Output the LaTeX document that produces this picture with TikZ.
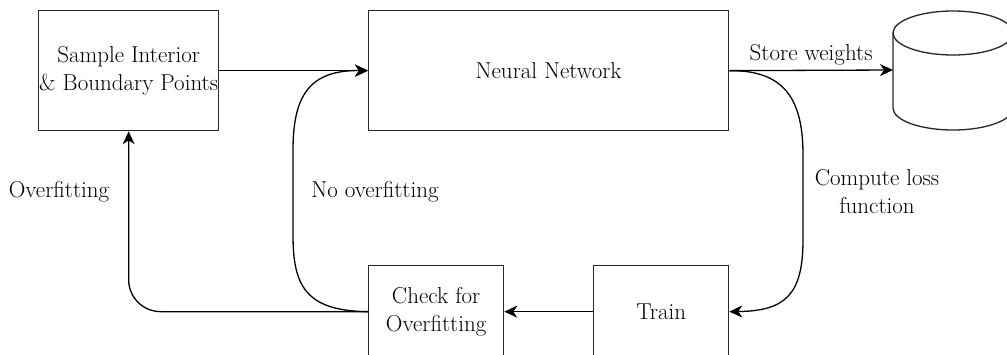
\documentclass[tikz,border=0pt]{standalone}
\usetikzlibrary{arrows.meta}
\begin{document}
\begin{tikzpicture}[x=1pt,y=-1pt,
  box/.style={draw=black!85,line width=1.3pt,anchor=north west,inner sep=0pt,align=center,font=\fontsize{23}{28}\selectfont},
  lbl/.style={align=center,font=\fontsize{23}{28}\selectfont,inner sep=0pt},
  conn/.style={line width=1.3pt,-{Stealth[length=13pt,width=12pt,inset=4pt]}}]
\useasboundingbox (0,0) rectangle (1007,354);
\clip (0,0) rectangle (1007,354);
\node[box,minimum width=180pt,minimum height=120pt] (sample) at (38,10) {Sample Interior\\\& Boundary Points};
\node[box,minimum width=360pt,minimum height=120pt] (nn) at (368,10) {Neural Network};
\node[box,minimum width=135pt,minimum height=92pt] (check) at (368,265) {Check for\\Overfitting};
\node[box,minimum width=135pt,minimum height=92pt] (train) at (593,265) {Train};
% database cylinder
\coordinate (db) at (893,70);
\draw[line width=1.3pt,draw=black!85] (893,33) -- (893,108) arc[start angle=180,end angle=0,x radius=60,y radius=22] -- (1013,33);
\draw[line width=1.3pt,draw=black!85] (953,33) ellipse[x radius=60,y radius=22];
% connectors
\draw[conn] (sample.east) -- (nn.west);
\draw[conn] (nn.east) -- node[lbl,above=4pt] {Store weights} (db);
\draw[conn] (nn.east) .. controls (785,70) and (803,100) .. (803,155) -- (803,240) .. controls (803,295) and (785,311) .. (train.east);
\draw[conn] (train.west) -- (check.east);
\draw[conn] (check.west) .. controls (305,311) and (293,285) .. (293,235) -- (293,150) .. controls (293,95) and (310,70) .. (nn.west);
\draw[conn,rounded corners=32pt] (check.west) -| (sample.south);
% labels
\node[lbl] (lover) at (59,192) {Overfitting};
\node[lbl] (lnoover) at (375,192) {No overfitting};
\node[lbl] (lloss) at (877,192) {Compute loss\\function};
\end{tikzpicture}
\end{document}
